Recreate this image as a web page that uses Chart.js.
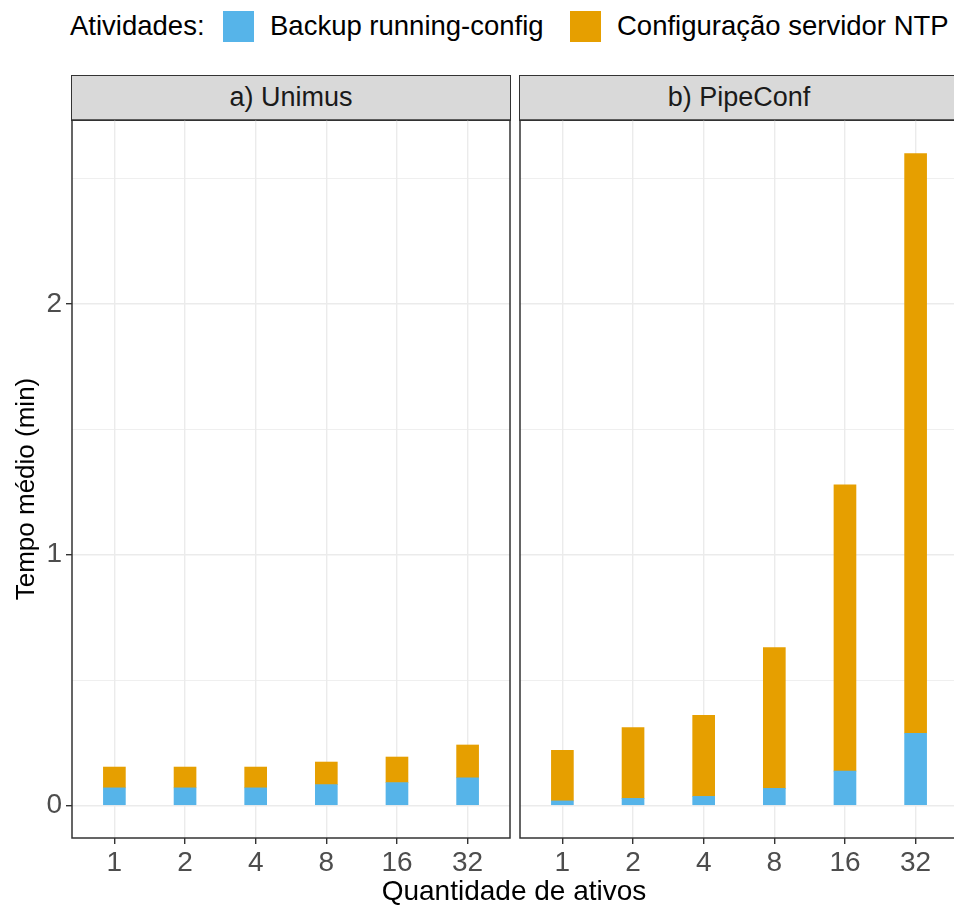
<!DOCTYPE html>
<html>
<head>
<meta charset="utf-8">
<script src="https://cdn.jsdelivr.net/npm/chart.js@4/dist/chart.umd.min.js"></script>
<style>
  html, body { margin: 0; padding: 0; background: #fff; width: 954px; height: 907px; overflow: hidden; position: relative; font-family: "Liberation Sans", Arial, Helvetica, sans-serif; }
  .abs { position: absolute; }
  .lg-text { font-size: 27.5px; color: #000; line-height: 32px; white-space: nowrap; }
  .key { width: 31px; height: 31px; }
  .strip { background: #D9D9D9; border: 1.5px solid #333; box-sizing: border-box; font-size: 27px; color: #1A1A1A; text-align: center; line-height: 42px; white-space: nowrap; }
  .xtitle { font-size: 28px; color: #000; line-height: 34px; white-space: nowrap; text-align: center; }
  .ytitle { font-size: 26px; color: #000; line-height: 30px; white-space: nowrap; text-align: center; width: 300px; height: 30px; transform: rotate(-90deg); }
</style>
</head>
<body>
<div class="abs lg-text" style="left:70px; top:10px;">Atividades:</div>
<div class="abs key" style="left:223px; top:11px; background:#56B4E9;"></div>
<div class="abs lg-text" style="left:270px; top:10px;">Backup running-config</div>
<div class="abs key" style="left:570px; top:11px; background:#E69F00;"></div>
<div class="abs lg-text" style="left:617px; top:10px;">Configuração servidor NTP</div>

<div class="abs strip" style="left:71px; top:75px; width:440px; height:46px;">a) Unimus</div>
<div class="abs strip" style="left:519px; top:75px; width:440px; height:46px;">b) PipeConf</div>

<div class="abs" style="left:0px; top:118px; width:514px; height:762px;"><canvas id="cA"></canvas></div>
<div class="abs" style="left:516px; top:118px; width:446px; height:762px;"><canvas id="cB"></canvas></div>

<div class="abs ytitle" style="left:-125px; top:474px;">Tempo médio (min)</div>
<div class="abs xtitle" style="left:314px; top:874px; width:400px;">Quantidade de ativos</div>

<script>
// ---- data ----
const categories = ['1', '2', '4', '8', '16', '32'];
const seriesNames = ['Backup running-config', 'Configuração servidor NTP'];
// a) Unimus (minutes)
const unimusBackup = [0.070, 0.070, 0.070, 0.083, 0.091, 0.110];
const unimusNtp    = [0.083, 0.083, 0.083, 0.090, 0.102, 0.131];
// b) PipeConf (minutes)
const pipeBackup = [0.018, 0.028, 0.036, 0.068, 0.137, 0.288];
const pipeNtp    = [0.202, 0.282, 0.323, 0.562, 1.142, 2.312];
// y axis
const yTickValues = [0, 0.5, 1, 1.5, 2, 2.5];
const yLabelValues = [0, 1, 2];
const yMin = -0.13, yMax = 2.734;

const colBackup = '#56B4E9';
const colNtp = '#E69F00';
const gridColor = '#EBEBEB';

const borderPlugin = {
  id: 'panelBorder',
  afterDatasetsDraw(chart) {
    const {ctx, chartArea: a} = chart;
    ctx.save();
    ctx.strokeStyle = '#333333';
    ctx.lineWidth = 1.5;
    ctx.strokeRect(a.left, a.top, a.right - a.left, a.bottom - a.top);
    ctx.restore();
  }
};

function toPoints(arr) { return arr.map((v, i) => ({x: i, y: v})); }

function zeroPad(s) { s.paddingTop = 0; s.paddingBottom = 0; s.paddingLeft = 0; s.paddingRight = 0; }

function makeChart(id, backup, ntp, showY) {
  return new Chart(document.getElementById(id), {
    type: 'bar',
    data: {
      datasets: [
        { label: seriesNames[0], data: toPoints(backup), backgroundColor: colBackup, borderWidth: 0, barThickness: 22 },
        { label: seriesNames[1], data: toPoints(ntp), backgroundColor: colNtp, borderWidth: 0, barThickness: 22 }
      ]
    },
    options: {
      responsive: true,
      maintainAspectRatio: false,
      animation: false,
      layout: { autoPadding: false, padding: showY ? { top: 2, right: 4, left: 0, bottom: 0 } : { top: 2, right: 4, left: 4, bottom: 0 } },
      plugins: { legend: { display: false }, tooltip: { enabled: false } },
      scales: {
        x: {
          type: 'linear',
          stacked: true,
          offset: false,
          min: -0.6,
          max: 5.6,
          afterBuildTicks: (s) => { s.ticks = categories.map((_, i) => ({ value: i })); },
          afterFit: (s) => { s.height = 42; zeroPad(s); },
          border: { display: false },
          grid: { offset: false, color: gridColor, lineWidth: 1.4, drawTicks: true, tickLength: 6, tickColor: '#333333', tickWidth: 1.4 },
          ticks: {
            autoSkip: false, maxRotation: 0, padding: 2,
            color: '#4D4D4D',
            font: { family: '"Liberation Sans", Arial, sans-serif', size: 28 },
            callback: (v) => categories[v] ?? ''
          }
        },
        y: {
          stacked: true,
          min: yMin,
          max: yMax,
          afterBuildTicks: (s) => { s.ticks = yTickValues.map(v => ({ value: v })); },
          afterFit: (s) => { s.width = showY ? 72 : 0; zeroPad(s); },
          border: { display: false },
          grid: {
            color: gridColor,
            lineWidth: (c) => (c.tick && yLabelValues.includes(c.tick.value)) ? 1.4 : 0.8,
            drawTicks: showY,
            tickLength: 6,
            tickWidth: 1.4,
            tickColor: (c) => (c.tick && yLabelValues.includes(c.tick.value)) ? '#333333' : 'rgba(0,0,0,0)'
          },
          ticks: {
            display: showY,
            padding: 4,
            color: '#4D4D4D',
            font: { family: '"Liberation Sans", Arial, sans-serif', size: 28 },
            callback: (v) => yLabelValues.includes(v) ? String(v) : ''
          }
        }
      }
    },
    plugins: [borderPlugin]
  });
}

makeChart('cA', unimusBackup, unimusNtp, true);
makeChart('cB', pipeBackup, pipeNtp, false);
</script>
</body>
</html>
